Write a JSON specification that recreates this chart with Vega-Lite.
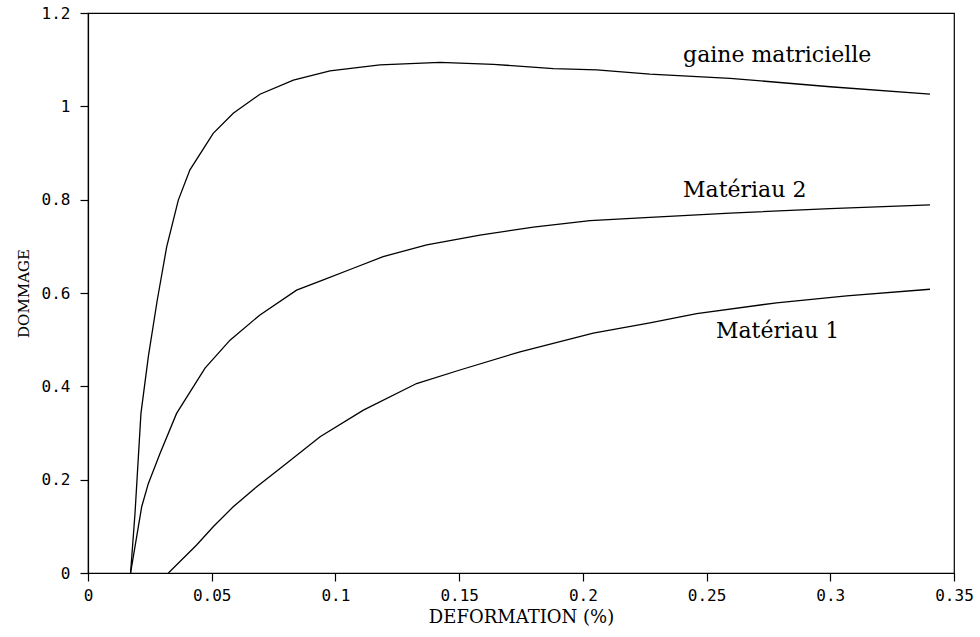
{
  "$schema": "https://vega.github.io/schema/vega-lite/v6.json",
  "width": 866,
  "height": 560,
  "autosize": {"type": "none"},
  "padding": {"left": 88, "top": 13, "right": 26, "bottom": 64},
  "background": "white",
  "config": {
    "view": {"stroke": "black", "strokeWidth": 1.2},
    "axis": {
      "grid": false,
      "domainColor": "black",
      "tickColor": "black",
      "labelColor": "black",
      "titleColor": "black",
      "labelFont": "DejaVu Sans Mono",
      "labelFontSize": 16,
      "labelFlush": false,
      "labelOverlap": false,
      "titleFont": "DejaVu Serif",
      "titleFontSize": 16,
      "titleFontWeight": "normal",
      "tickSize": 8,
      "domainWidth": 1.2,
      "tickWidth": 1.2
    }
  },
  "datasets": {
    "curves": [
      {"s": "gaine", "x": 0.0172, "y": 0},
      {"s": "gaine", "x": 0.019, "y": 0.128},
      {"s": "gaine", "x": 0.0214, "y": 0.342},
      {"s": "gaine", "x": 0.0244, "y": 0.464},
      {"s": "gaine", "x": 0.028, "y": 0.585},
      {"s": "gaine", "x": 0.0318, "y": 0.699},
      {"s": "gaine", "x": 0.0365, "y": 0.799},
      {"s": "gaine", "x": 0.0412, "y": 0.864},
      {"s": "gaine", "x": 0.0506, "y": 0.942},
      {"s": "gaine", "x": 0.0587, "y": 0.985},
      {"s": "gaine", "x": 0.0695, "y": 1.026},
      {"s": "gaine", "x": 0.083, "y": 1.056},
      {"s": "gaine", "x": 0.0978, "y": 1.076},
      {"s": "gaine", "x": 0.118, "y": 1.089},
      {"s": "gaine", "x": 0.1423, "y": 1.094},
      {"s": "gaine", "x": 0.1638, "y": 1.09},
      {"s": "gaine", "x": 0.1881, "y": 1.081},
      {"s": "gaine", "x": 0.2056, "y": 1.078},
      {"s": "gaine", "x": 0.2271, "y": 1.069},
      {"s": "gaine", "x": 0.2595, "y": 1.06},
      {"s": "gaine", "x": 0.2999, "y": 1.042},
      {"s": "gaine", "x": 0.3403, "y": 1.026},
      {"s": "m2", "x": 0.0172, "y": 0},
      {"s": "m2", "x": 0.0217, "y": 0.142},
      {"s": "m2", "x": 0.0244, "y": 0.192},
      {"s": "m2", "x": 0.0291, "y": 0.256},
      {"s": "m2", "x": 0.0358, "y": 0.342},
      {"s": "m2", "x": 0.0473, "y": 0.439},
      {"s": "m2", "x": 0.0574, "y": 0.499},
      {"s": "m2", "x": 0.0695, "y": 0.553},
      {"s": "m2", "x": 0.0843, "y": 0.606},
      {"s": "m2", "x": 0.0951, "y": 0.628},
      {"s": "m2", "x": 0.1072, "y": 0.653},
      {"s": "m2", "x": 0.1193, "y": 0.678},
      {"s": "m2", "x": 0.1369, "y": 0.703},
      {"s": "m2", "x": 0.1584, "y": 0.724},
      {"s": "m2", "x": 0.18, "y": 0.741},
      {"s": "m2", "x": 0.2029, "y": 0.755},
      {"s": "m2", "x": 0.2271, "y": 0.762},
      {"s": "m2", "x": 0.2595, "y": 0.771},
      {"s": "m2", "x": 0.2999, "y": 0.781},
      {"s": "m2", "x": 0.3403, "y": 0.789},
      {"s": "m1", "x": 0.0325, "y": 0},
      {"s": "m1", "x": 0.0439, "y": 0.06},
      {"s": "m1", "x": 0.0506, "y": 0.099},
      {"s": "m1", "x": 0.0587, "y": 0.142},
      {"s": "m1", "x": 0.0682, "y": 0.185},
      {"s": "m1", "x": 0.0803, "y": 0.235},
      {"s": "m1", "x": 0.0938, "y": 0.292},
      {"s": "m1", "x": 0.1113, "y": 0.349},
      {"s": "m1", "x": 0.1328, "y": 0.406},
      {"s": "m1", "x": 0.1503, "y": 0.435},
      {"s": "m1", "x": 0.1746, "y": 0.474},
      {"s": "m1", "x": 0.2042, "y": 0.514},
      {"s": "m1", "x": 0.2271, "y": 0.536},
      {"s": "m1", "x": 0.246, "y": 0.556},
      {"s": "m1", "x": 0.2783, "y": 0.579},
      {"s": "m1", "x": 0.3066, "y": 0.594},
      {"s": "m1", "x": 0.3403, "y": 0.608}
    ],
    "labels": [
      {"label": "gaine matricielle", "x": 0.2405, "y": 1.095},
      {"label": "Matériau 2", "x": 0.2405, "y": 0.806},
      {"label": "Matériau 1", "x": 0.2538, "y": 0.503}
    ]
  },
  "layer": [
    {
      "data": {"name": "curves"},
      "mark": {"type": "line", "color": "black", "strokeWidth": 1.3, "clip": true},
      "encoding": {
        "x": {
          "field": "x",
          "type": "quantitative",
          "scale": {"domain": [0, 0.35], "nice": false, "zero": false},
          "axis": {
            "title": "DEFORMATION (%)",
            "titleFontSize": 18,
            "values": [0, 0.05, 0.1, 0.15, 0.2, 0.25, 0.3, 0.35],
            "format": "~g",
            "labelPadding": 6,
            "titlePadding": 5
          }
        },
        "y": {
          "field": "y",
          "type": "quantitative",
          "scale": {"domain": [0, 1.2], "nice": false},
          "axis": {
            "title": "DOMMAGE",
            "titleFontSize": 15,
            "values": [0, 0.2, 0.4, 0.6, 0.8, 1, 1.2],
            "format": "~g",
            "labelPadding": 10,
            "titlePadding": 10
          }
        },
        "detail": {"field": "s"},
        "order": {"field": "x", "type": "quantitative"}
      }
    },
    {
      "data": {"name": "labels"},
      "mark": {"type": "text", "align": "left", "baseline": "alphabetic", "font": "DejaVu Serif", "fontSize": 22, "color": "black"},
      "encoding": {
        "x": {"field": "x", "type": "quantitative"},
        "y": {"field": "y", "type": "quantitative"},
        "text": {"field": "label"}
      }
    }
  ]
}
